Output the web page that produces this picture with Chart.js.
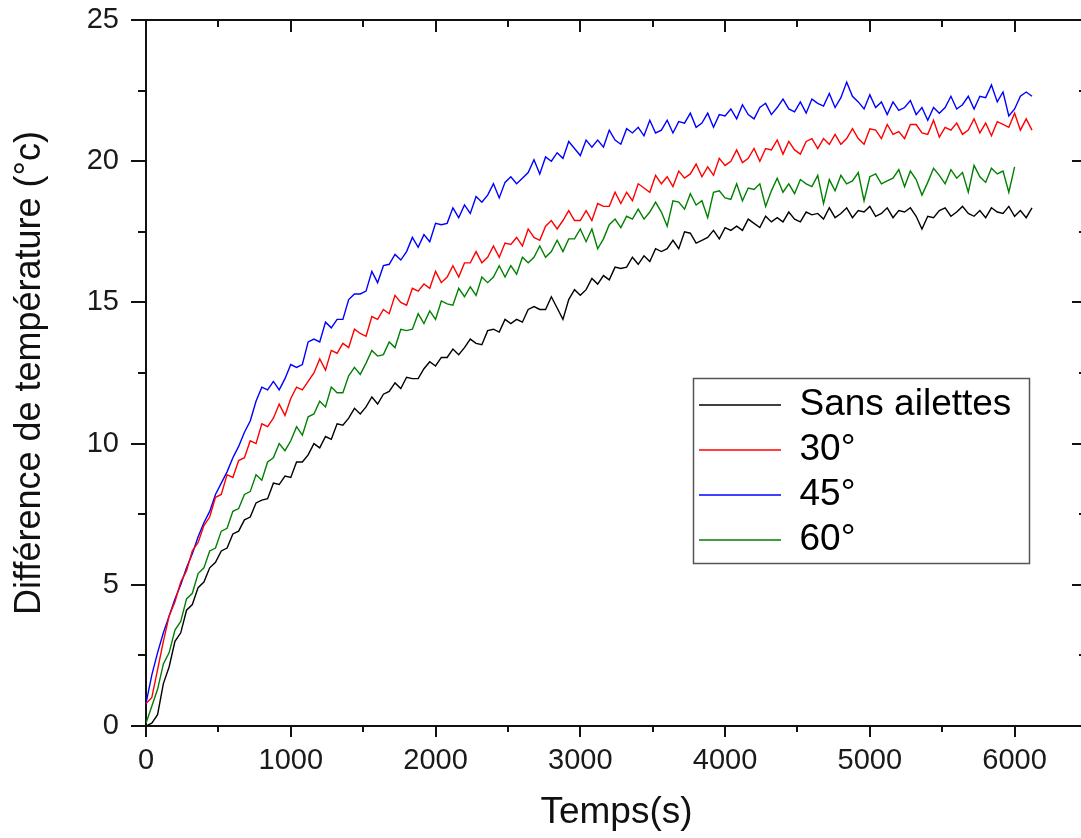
<!DOCTYPE html>
<html><head><meta charset="utf-8">
<script src="https://cdn.jsdelivr.net/npm/chart.js@4.4.0/dist/chart.umd.min.js"></script>
<style>html,body{margin:0;padding:0;background:#fff;overflow:hidden;}#wrap{width:1090px;height:838px;}</style>
</head><body><div id="wrap"><canvas id="c" width="1090" height="838"></canvas></div>
<script>
const times = [0,40,80,120,160,200,240,280,320,360,
400,440,480,520,560,600,640,680,720,760,
800,840,880,920,960,1000,1040,1080,1120,1160,
1200,1240,1280,1320,1360,1400,1440,1480,1520,1560,
1600,1640,1680,1720,1760,1800,1840,1880,1920,1960,
2000,2040,2080,2120,2160,2200,2240,2280,2320,2360,
2400,2440,2480,2520,2560,2600,2640,2680,2720,2760,
2800,2840,2880,2920,2960,3000,3040,3080,3120,3160,
3200,3240,3280,3320,3360,3400,3440,3480,3520,3560,
3600,3640,3680,3720,3760,3800,3840,3880,3920,3960,
4000,4040,4080,4120,4160,4200,4240,4280,4320,4360,
4400,4440,4480,4520,4560,4600,4640,4680,4720,4760,
4800,4840,4880,4920,4960,5000,5040,5080,5120,5160,
5200,5240,5280,5320,5360,5400,5440,5480,5520,5560,
5600,5640,5680,5720,5760,5800,5840,5880,5920,5960,
6000,6040,6080,6120];

const sansAilettes = [0.0,0.1,0.4,1.5,2.1,3.0,3.3,4.1,4.3,4.9,
5.1,5.6,5.8,6.2,6.3,6.8,6.9,7.3,7.4,7.9,
8.0,8.05,8.6,8.55,8.85,8.8,9.35,9.35,9.6,10.0,
9.85,10.25,10.15,10.7,10.65,10.9,11.25,11.05,11.3,11.65,
11.4,11.75,11.85,12.15,11.95,12.35,12.3,12.3,12.65,12.9,
12.75,13.05,13.05,13.35,13.15,13.4,13.7,13.55,13.5,14.0,
14.05,13.95,14.4,14.25,14.4,14.3,14.75,14.85,14.75,14.75,
15.2,14.8,14.4,15.1,15.45,15.25,15.45,15.85,15.65,15.95,
15.8,16.25,16.2,16.25,16.6,16.35,16.65,16.45,16.9,16.8,
16.9,17.2,16.9,17.5,17.45,17.1,17.2,17.3,17.55,17.25,
17.65,17.55,17.7,17.55,17.95,17.8,17.65,18.05,17.85,18.0,
17.85,18.2,17.95,17.85,18.2,18.1,18.15,17.95,18.35,18.0,
18.15,18.35,18.0,18.25,18.2,18.4,18.05,18.15,18.35,18.0,
18.25,18.2,18.35,18.05,17.6,18.05,18.0,18.25,18.35,18.05,
18.2,18.4,18.15,18.05,18.25,18.0,18.35,18.2,18.15,18.4,
18.05,18.25,18.0,18.35];

const deg30 = [0.8,1.0,2.0,3.0,3.9,4.4,5.1,5.5,6.2,6.5,
7.1,7.4,8.1,8.2,8.9,8.8,9.4,9.5,10.1,10.0,
10.7,10.6,10.9,11.4,11.0,11.6,12.0,11.9,12.2,12.5,
13.0,12.6,13.3,13.2,13.55,13.4,14.05,13.9,13.8,14.5,
14.4,14.75,14.6,15.25,15.0,14.9,15.5,15.4,15.65,15.5,
16.1,15.7,15.9,16.3,15.9,16.4,16.4,16.8,16.4,16.6,
17.0,16.6,17.1,17.05,17.3,17.0,17.6,17.3,17.2,17.7,
17.9,17.6,17.9,18.25,17.9,17.9,18.25,17.9,18.5,18.4,
18.4,18.9,18.5,18.9,18.6,19.2,19.05,18.9,19.5,19.2,
19.45,19.1,19.65,19.4,19.55,19.9,19.45,19.8,19.5,20.1,
19.85,20.0,20.4,19.95,20.1,20.45,20.0,20.45,20.4,20.75,
20.25,20.7,20.4,20.25,20.7,20.8,20.45,20.8,20.6,20.95,
20.6,20.8,21.15,20.8,20.6,21.15,21.1,20.8,21.3,20.95,
21.05,20.8,21.3,21.3,21.0,20.95,21.45,20.85,21.2,21.1,
21.35,20.95,21.1,21.5,21.0,21.35,20.9,21.4,21.3,21.2,
21.7,21.1,21.5,21.1];

const deg45 = [0.8,1.8,2.6,3.3,3.9,4.5,5.0,5.6,6.1,6.7,
7.2,7.6,8.2,8.6,9.0,9.5,9.9,10.4,10.8,11.5,
12.0,11.9,12.2,11.9,12.3,12.8,12.7,12.8,13.6,13.7,
13.6,14.3,14.1,14.4,14.4,15.1,15.3,15.3,15.4,16.1,
15.7,16.3,16.35,16.7,16.5,16.8,17.3,16.95,17.4,17.15,
17.8,17.75,17.8,18.35,18.0,18.45,18.15,18.75,18.55,18.8,
19.2,18.7,19.25,19.45,19.2,19.4,19.6,20.05,19.55,20.15,
20.0,20.3,20.1,20.7,20.45,20.2,20.75,20.5,20.75,20.5,
21.1,20.75,20.6,21.15,21.0,21.2,20.9,21.45,21.0,21.1,
21.45,21.0,21.4,21.35,21.7,21.2,21.35,21.7,21.2,21.65,
21.6,21.85,21.5,22.0,21.65,21.5,21.9,22.05,21.65,21.9,
22.2,21.85,21.75,22.1,21.7,22.2,22.05,21.95,22.4,21.9,
22.25,22.8,22.3,22.1,21.85,22.35,21.9,22.1,21.65,22.1,
21.8,21.9,22.15,21.65,21.9,21.45,21.9,21.7,21.9,22.3,
21.85,22.0,22.3,21.85,22.3,22.25,22.7,22.1,22.45,21.6,
21.85,22.3,22.45,22.3];

const deg60 = [0.1,0.7,1.3,2.2,2.6,3.4,3.7,4.5,4.7,5.4,
5.6,6.2,6.3,6.9,7.0,7.6,7.7,8.2,8.3,8.9,
8.7,9.35,9.5,10.0,9.75,10.1,10.6,10.3,10.95,11.05,
11.5,11.3,12.0,11.8,11.8,12.4,12.7,12.45,12.85,13.3,
13.1,13.15,13.6,13.4,14.05,14.0,14.05,14.6,14.25,14.7,
14.4,15.05,14.95,14.9,15.5,15.2,15.55,15.25,15.9,15.7,
15.9,16.3,15.9,16.3,16.0,16.6,16.4,16.6,17.0,16.6,
16.8,17.2,16.8,17.25,17.25,17.6,17.15,17.6,16.9,17.25,
17.75,17.95,17.65,18.05,17.95,18.3,17.95,18.2,18.55,18.2,
17.7,18.6,18.55,18.3,18.85,18.45,18.6,18.0,18.9,18.95,
18.7,18.65,19.2,18.6,19.05,19.0,19.2,18.4,18.95,19.4,
18.9,19.2,18.85,19.35,19.2,19.1,19.5,18.5,19.35,18.95,
19.5,19.2,19.3,19.6,18.6,19.45,19.55,19.2,19.3,19.4,
19.7,19.1,19.65,19.35,18.8,19.25,19.75,19.5,19.2,19.7,
19.4,19.6,18.9,19.85,19.45,19.25,19.75,19.55,19.65,18.9,
19.8];

const seriesLabels = ['Sans ailettes', '30°', '45°', '60°'];
const seriesColors = ['#000000', '#ff0000', '#0000ff', '#008000'];
const xTickLabels = [0, 1000, 2000, 3000, 4000, 5000, 6000];
const yTickLabels = [0, 5, 10, 15, 20, 25];

const seriesValues = [sansAilettes, deg30, deg45, deg60];
const toPoints = vals => vals.map((v, i) => ({x: times[i], y: v}));

const FONT = "'Liberation Sans', Arial, sans-serif";

const frameTicks = {
  id: 'frameTicks',
  afterLayout(chart) {
    const lg = chart.legend;
    if (!lg) return;
    const w = lg.width, h = lg.height;
    lg.left = 691; lg.top = 378.5; lg.right = 691 + w; lg.bottom = 378.5 + h;
  },
  afterDraw(chart) {
    const {ctx, chartArea: a, scales: {x, y}} = chart;
    ctx.save();
    ctx.strokeStyle = '#111';
    ctx.lineWidth = 2;
    ctx.beginPath();
    ctx.moveTo(a.left, a.top); ctx.lineTo(a.right, a.top); ctx.lineTo(a.right, a.bottom);
    ctx.stroke();
    ctx.beginPath();
    for (let v = 0; v <= 6500; v += 500) {
      const px = Math.round(x.getPixelForValue(v));
      const major = v % 1000 === 0;
      ctx.moveTo(px, a.bottom); ctx.lineTo(px, a.bottom + (major ? 11 : 6));
      ctx.moveTo(px, a.top); ctx.lineTo(px, a.top + (major ? 12 : 7));
    }
    for (let v = 0; v <= 25; v += 2.5) {
      const py = Math.round(y.getPixelForValue(v));
      const major = v % 5 === 0;
      ctx.moveTo(a.left, py); ctx.lineTo(a.left - (major ? 15 : 8), py);
      ctx.moveTo(a.right, py); ctx.lineTo(a.right - (major ? 15 : 8), py);
    }
    ctx.stroke();
    ctx.strokeStyle = '#555';
    ctx.lineWidth = 1.5;
    ctx.strokeRect(693.5, 378.5, 336, 185);
    ctx.restore();
  }
};

new Chart(document.getElementById('c'), {
  type: 'line',
  data: {
    datasets: seriesLabels.map((lab, k) => ({
      label: lab,
      data: toPoints(seriesValues[k]),
      borderColor: seriesColors[k],
      backgroundColor: seriesColors[k],
      borderWidth: 1.4,
      pointRadius: 0,
      tension: 0,
      fill: false
    }))
  },
  options: {
    responsive: false,
    animation: false,
    devicePixelRatio: 1,
    layout: {padding: {left: 0, top: 20, right: 3, bottom: 0}},
    plugins: {
      tooltip: {enabled: false},
      legend: {
        display: true,
        position: 'chartArea',
        align: 'start',
        labels: {
          color: '#000',
          font: {family: FONT, size: 37},
          usePointStyle: true,
          pointStyle: 'line',
          pointStyleWidth: 82,
          padding: 8
        }
      }
    },
    scales: {
      x: {
        type: 'linear',
        min: 0, max: 6500,
        grid: {display: false, drawTicks: false},
        border: {display: true, color: '#111', width: 2},
        ticks: {
          autoSkip: false, maxRotation: 0, minRotation: 0, padding: 18,
          color: '#1a1a1a', font: {family: FONT, size: 29},
          callback: v => String(v)
        },
        afterBuildTicks: s => { s.ticks = xTickLabels.map(v => ({value: v})); },
        title: {display: true, text: 'Temps(s)', color: '#111',
          font: {family: FONT, size: 37, lineHeight: 1.2}, padding: {top: 0, bottom: 3}},
        afterFit: s => { s.height = 112; s.paddingLeft = 0; s.paddingRight = 0; }
      },
      y: {
        type: 'linear',
        min: 0, max: 25,
        grid: {display: false, drawTicks: false},
        border: {display: true, color: '#111', width: 2},
        ticks: {
          padding: 27,
          color: '#1a1a1a', font: {family: FONT, size: 29},
          callback: v => String(v)
        },
        afterBuildTicks: s => { s.ticks = yTickLabels.map(v => ({value: v})); },
        title: {display: true, text: 'Différence de température (°c)', color: '#111',
          font: {family: FONT, size: 36, lineHeight: 1.2}, padding: {top: 8, bottom: 0}},
        afterFit: s => { s.width = 146; s.paddingTop = 0; s.paddingBottom = 0; }
      }
    }
  },
  plugins: [frameTicks]
});
</script>
</body></html>
